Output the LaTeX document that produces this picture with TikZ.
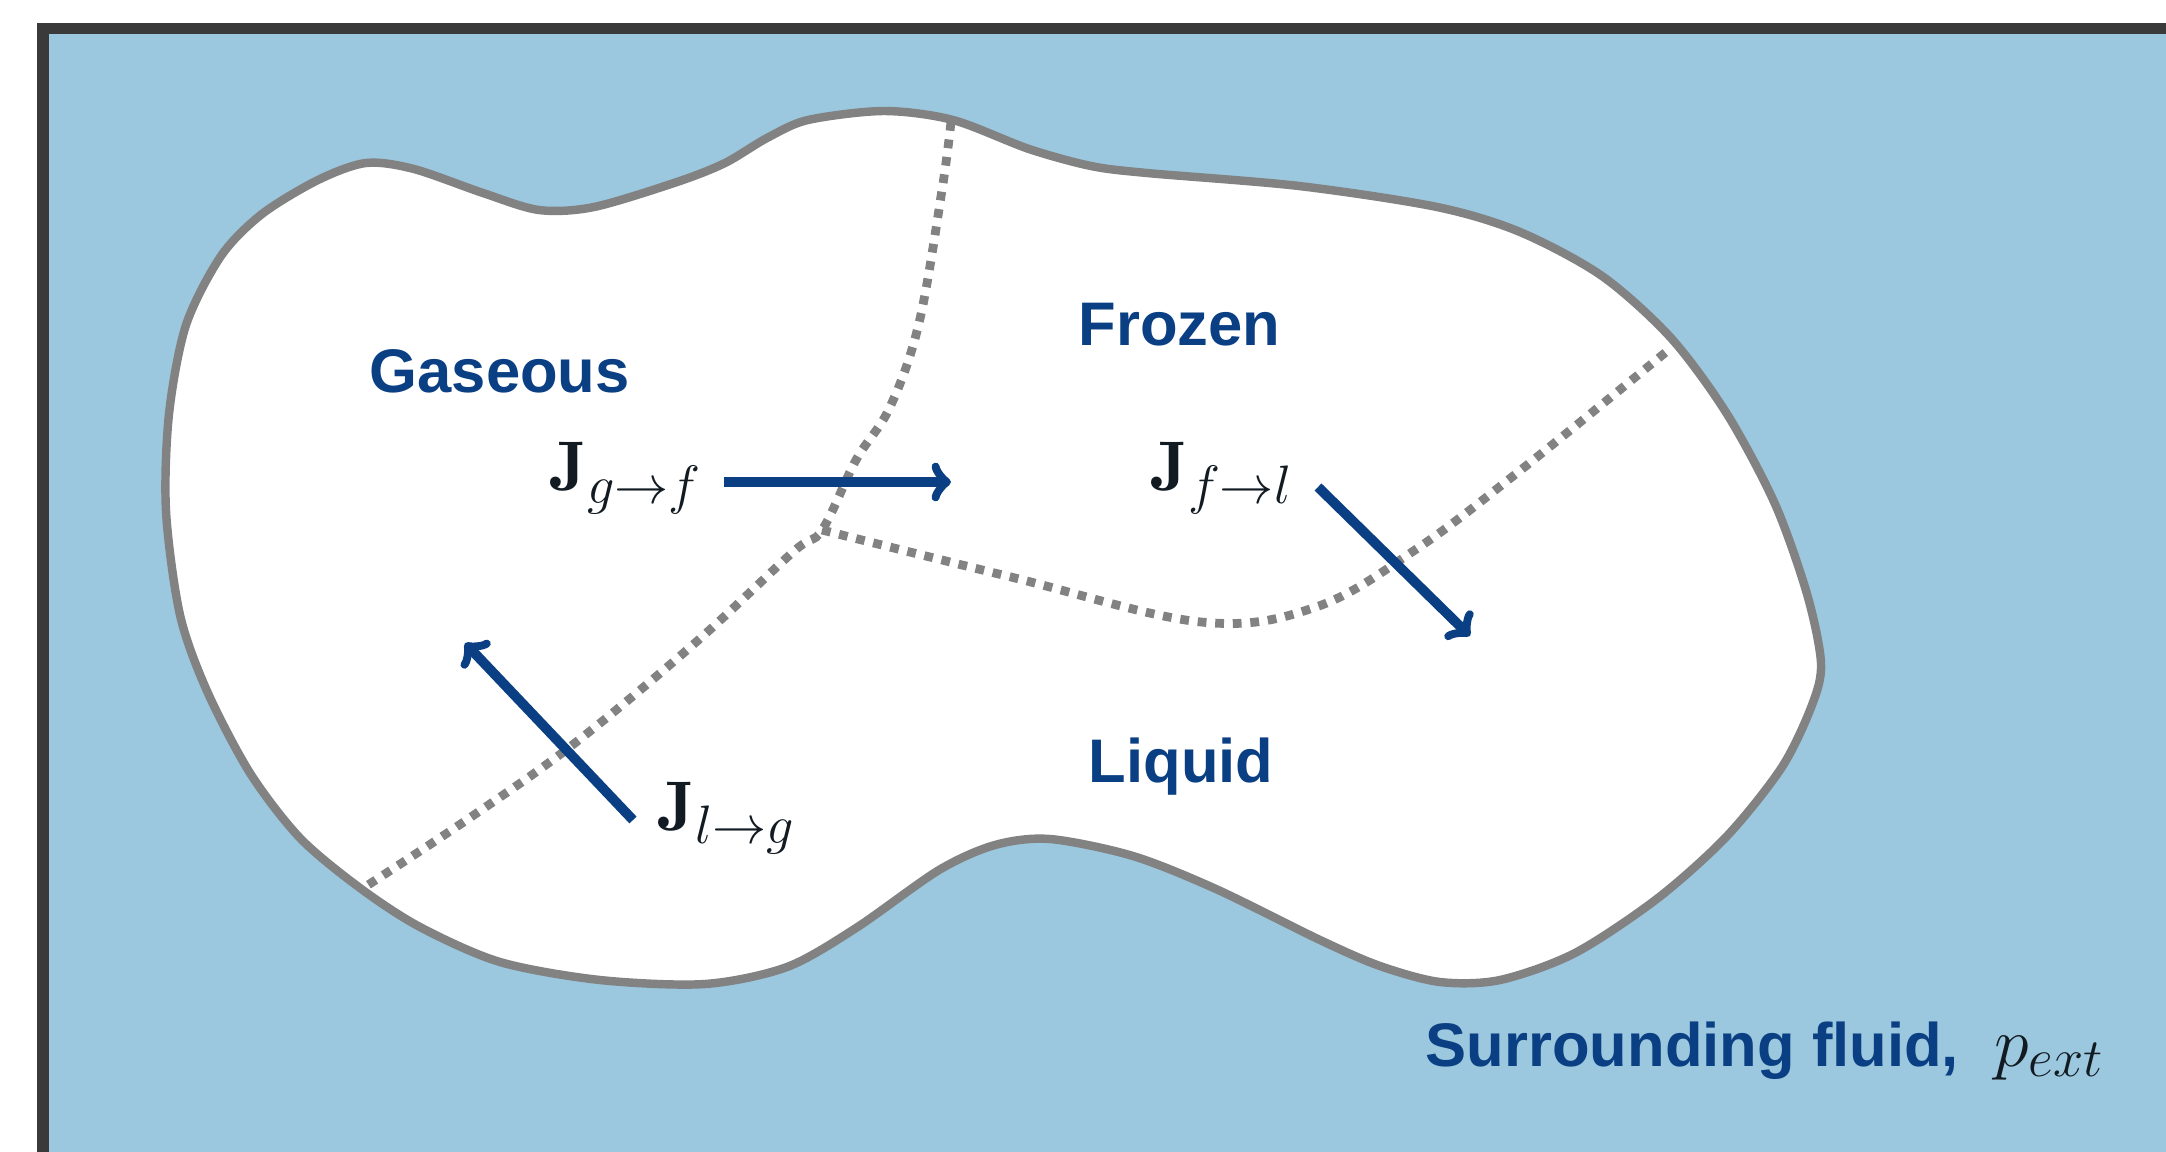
\RequirePackage{fix-cm}
\documentclass[tikz,border=0pt]{standalone}
\usepackage{fontspec}
\setsansfont{Liberation Sans}
\usepackage{xcolor}
\usepackage{tikz}
\usetikzlibrary{arrows.meta}
\definecolor{fluidblue}{HTML}{9BC8DF}
\definecolor{framegray}{HTML}{3A3A3A}
\definecolor{wallgray}{HTML}{828282}
\definecolor{phaseblue}{HTML}{0A3F83}
\definecolor{fluxblack}{HTML}{121A22}
\DeclareMathSizes{20}{20}{15.4}{11}

\tikzset{
  phase/.style={anchor=base west, inner sep=0pt, text=phaseblue,
    font=\sffamily\bfseries\fontsize{17.5}{20}\selectfont},
  flux/.style={anchor=base west, inner sep=0pt, text=fluxblack,
    font=\fontsize{20}{24}\selectfont},
  fluxarrow/.style={draw=phaseblue, line width=2.8pt,
    -{Classical TikZ Rightarrow[length=5.5pt, width=11pt, round]}},
  interface/.style={draw=wallgray, line width=2.5pt, dash pattern=on 2.5pt off 2.5pt},
}

\begin{document}
\begin{tikzpicture}[x=0.01cm, y=-0.01cm]
    \useasboundingbox (0,0) rectangle (2166,1151);
    % surrounding fluid and wall
    \fill[fluidblue] (43,28) rectangle (2200,1200);
    \draw[framegray, line width=0.11cm] (43,1200) -- (43,28) -- (2200,28);
    % the body
    \draw[wallgray, fill=white, line width=2.4pt] plot[smooth cycle, tension=0.5] coordinates {
      (221,256) (262,214) (318,180) (366,163) (414,169) (483,193) (539,210)
      (594,207) (677,182) (725,163) (767,138) (808,120) (884,111) (953,120)
      (1029,149) (1091,166) (1147,173) (1299,186) (1437,207) (1520,232)
      (1602,276) (1671,338) (1727,414) (1775,504) (1807,594) (1821,663)
      (1812,705) (1782,767) (1727,836) (1658,898) (1575,953) (1500,980)
      (1440,982) (1380,966) (1320,940) (1216,889) (1133,856) (1050,839)
      (995,845) (939,870) (856,928) (787,967) (705,984) (600,980) (500,962)
      (420,927) (360,888) (300,838) (250,773) (207,691) (180,615) (166,511)
      (169,414) (186,325)};
    % phase boundaries
    \draw[interface] plot[smooth, tension=0.6] coordinates {
      (951,122) (942,190) (919,323) (890,407) (856,460) (822,530) (793,552)
      (695,643) (575,743) (471,817) (368,885)};
    \draw[interface] plot[smooth, tension=0.6] coordinates {
      (822,530) (1011,577) (1201,622) (1316,607) (1415,550) (1517,473) (1666,352)};
    % phases
    \node[phase] (gas) at (369,392) {Gaseous};
    \node[phase] (frozen) at (1078,345) {Frozen};
    \node[phase] (liquid) at (1088,782) {Liquid};
    \node[phase] (fluid) at (1425,1066) {Surrounding fluid,\hspace{10pt}\normalfont\color{fluxblack}\fontsize{20}{24}\selectfont$p_{ext}$};
    % fluxes
    \node[flux] (Jgf) at (550,490) {$\mathbf{J}_{g\to f}$};
    \node[flux] (Jfl) at (1151,490) {$\mathbf{J}_{f\to l}$};
    \node[flux] (Jlg) at (658,830) {$\mathbf{J}_{l\to g}$};
    \coordinate (gf tail) at (724,482);
    \coordinate (gf head) at (951,482);
    \coordinate (fl tail) at (1318,487);
    \coordinate (fl head) at (1470,636);
    \coordinate (lg tail) at (633,820);
    \coordinate (lg head) at (465,643);
    \draw[fluxarrow] (gf tail) -- (gf head);
    \draw[fluxarrow] (fl tail) -- (fl head);
    \draw[fluxarrow] (lg tail) -- (lg head);
\end{tikzpicture}
\end{document}
